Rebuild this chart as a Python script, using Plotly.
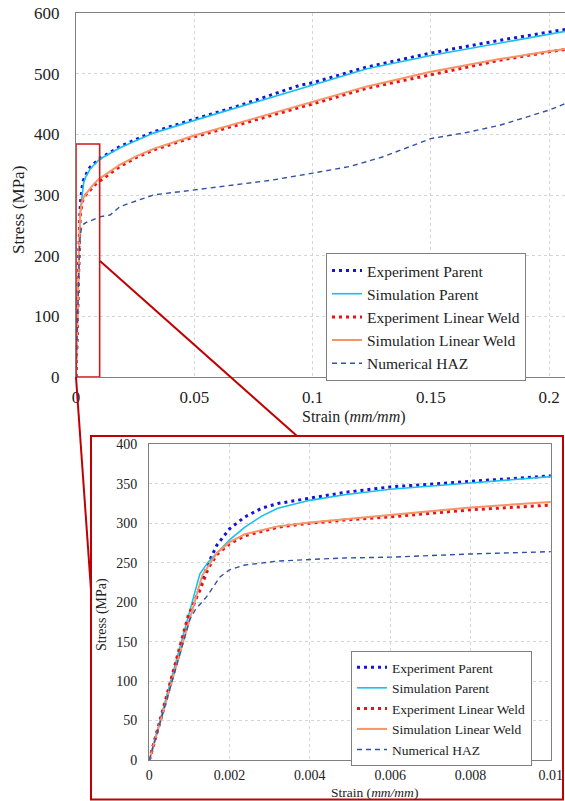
import plotly.graph_objects as go

# ---------------- data (strain mm/mm, stress MPa) ----------------
exp_parent_strain = [0, 0.0004, 0.0008, 0.00101, 0.00126, 0.00147, 0.00168, 0.002, 0.00238, 0.0028,
                     0.0032, 0.004, 0.00487, 0.006, 0.008, 0.01, 0.0186, 0.0327, 0.05, 0.068,
                     0.0947, 0.1, 0.123, 0.15, 0.179, 0.2, 0.207]
exp_parent_stress = [0, 73, 145, 183, 219, 249, 272, 293, 308, 319,
                     325, 332, 339, 346, 353, 360, 380, 404, 425, 446,
                     481, 485, 511, 534, 555, 569, 573]

sim_parent_strain = [0, 0.00126, 0.00147, 0.00168, 0.002, 0.00238, 0.0028, 0.0032, 0.004, 0.00487,
                     0.006, 0.008, 0.01, 0.0186, 0.0327, 0.05, 0.068, 0.1, 0.123, 0.15,
                     0.179, 0.2, 0.207]
sim_parent_stress = [0, 236, 251, 262, 279, 295, 309, 319, 329, 336,
                     343, 351, 359, 378, 402, 423, 444, 482, 508, 530,
                     551, 566, 570]

exp_weld_strain = [0, 0.0004, 0.0008, 0.00097, 0.00126, 0.00147, 0.00168, 0.002, 0.00238, 0.0028,
                   0.0032, 0.004, 0.00487, 0.006, 0.008, 0.01, 0.0186, 0.0256, 0.0327, 0.05,
                   0.068, 0.0961, 0.1, 0.123, 0.15, 0.179, 0.2, 0.207]
exp_weld_stress = [0, 76, 151, 183, 215, 243, 260, 274, 284, 290,
                   295, 300, 304, 308, 317, 323, 347, 362, 374, 396,
                   415, 446, 450, 476, 498, 522, 536, 540]

sim_weld_strain = [0, 0.00132, 0.00168, 0.002, 0.00238, 0.0032, 0.004, 0.00487, 0.006, 0.008,
                   0.01, 0.0186, 0.0256, 0.0327, 0.05, 0.068, 0.1, 0.123, 0.15, 0.179,
                   0.2, 0.207]
sim_weld_stress = [0, 234, 262, 276, 286, 296, 301, 305, 311, 320,
                   327, 350, 364, 376, 398, 418, 453, 479, 503, 524,
                   537, 541]

haz_strain = [0, 0.0006, 0.00101, 0.00114, 0.00143, 0.00176, 0.002, 0.00238, 0.0032, 0.004,
              0.00487, 0.006, 0.008, 0.01, 0.0144, 0.0186, 0.0327, 0.05, 0.068, 0.082,
              0.1, 0.1158, 0.1298, 0.15, 0.1651, 0.1792, 0.2, 0.207]
haz_stress = [0, 104, 178, 190, 207, 232, 241, 247, 252, 254,
              256, 257, 261, 264, 267, 281, 300, 308, 317, 324,
              336, 347, 363, 393, 403, 415, 440, 451]

series_names = ["Experiment Parent", "Simulation Parent", "Experiment Linear Weld",
                "Simulation Linear Weld", "Numerical HAZ"]

main_xticks = [0, 0.05, 0.1, 0.15, 0.2]
main_xticktext = ["0", "0.05", "0.1", "0.15", "0.2"]
main_yticks = [0, 100, 200, 300, 400, 500, 600]
zoom_xticks = [0, 0.002, 0.004, 0.006, 0.008, 0.01]
zoom_xticktext = ["0", "0.002", "0.004", "0.006", "0.008", "0.01"]
zoom_yticks = [0, 50, 100, 150, 200, 250, 300, 350, 400]
zoom_box = (0, 0.01, 0, 384)  # region of the main chart shown in the inset

# ---------------- styling ----------------
W, H = 565, 801
FONT = "Liberation Serif"
styles = [
    dict(color="#1414D2", width=3, dash="3px,4px"),
    dict(color="#18C0EE", width=1.6, dash="solid"),
    dict(color="#F01010", width=3, dash="3px,4px"),
    dict(color="#F79468", width=2, dash="solid"),
    dict(color="#2E52A4", width=1.4, dash="5px,4px"),
]
datasets = [(exp_parent_strain, exp_parent_stress), (sim_parent_strain, sim_parent_stress),
            (exp_weld_strain, exp_weld_stress), (sim_weld_strain, sim_weld_stress),
            (haz_strain, haz_stress)]

def px(x):
    return x / W

def py(y):
    return 1 - y / H

fig = go.Figure()
for (xs, ys), name, st in zip(datasets, series_names, styles):
    fig.add_trace(go.Scatter(x=xs, y=ys, mode="lines", name=name, line=st,
                             xaxis="x", yaxis="y", legend="legend"))
for (xs, ys), name, st in zip(datasets, series_names, styles):
    fig.add_trace(go.Scatter(x=xs, y=ys, mode="lines", name=name, line=st,
                             xaxis="x2", yaxis="y2", legend="legend2"))

grid = dict(showgrid=True, gridcolor="#D4D4D4", griddash="dot", gridwidth=1, zeroline=False,
            automargin=False)
axline = dict(showline=True, linecolor="#808080", linewidth=1.3, ticks="")

fig.update_layout(
    width=W, height=H, autosize=False,
    margin=dict(l=0, r=0, t=0, b=0, pad=0, autoexpand=False),
    paper_bgcolor="white", plot_bgcolor="white",
    font=dict(family=FONT, color="#222222"),
    xaxis=dict(domain=[px(76), 1.0], range=[0, 0.2067], tickvals=main_xticks, ticktext=main_xticktext,
               mirror=True, tickfont=dict(size=17, family=FONT), ticklabelstandoff=4,
               anchor="y", **grid, **axline),
    yaxis=dict(domain=[py(377), py(13)], range=[0, 600], tickvals=main_yticks,
               mirror=False, tickfont=dict(size=17, family=FONT), ticklabelstandoff=12,
               anchor="x", **grid, **axline),
    xaxis2=dict(domain=[px(149.3), px(550.7)], range=[0, 0.01], tickvals=zoom_xticks,
                ticktext=zoom_xticktext, mirror=True, tickfont=dict(size=14, family=FONT),
                ticklabelstandoff=2, anchor="y2", **grid, **axline),
    yaxis2=dict(domain=[py(760), py(444.3)], range=[0, 400], tickvals=zoom_yticks,
                mirror=True, tickfont=dict(size=14, family=FONT), ticklabelstandoff=8,
                anchor="x2", **grid, **axline),
    legend=dict(x=px(326), y=py(253), xanchor="left", yanchor="top", bgcolor="white",
                bordercolor="#808080", borderwidth=1, font=dict(size=15.5, family=FONT, color="#222"),
                tracegroupgap=0, itemwidth=30),
    legend2=dict(x=px(351), y=py(651), xanchor="left", yanchor="top", bgcolor="white",
                 bordercolor="#808080", borderwidth=1, font=dict(size=13.5, family=FONT, color="#222"),
                 tracegroupgap=0, itemwidth=30),
    showlegend=True,
)

red = "#C00000"
shapes = [
    # zoom region in main chart
    dict(type="rect", xref="x", yref="y", x0=zoom_box[0], x1=zoom_box[1], y0=zoom_box[2], y1=zoom_box[3],
         line=dict(color="#D01818", width=1.6), layer="above"),
    # inset frame
    dict(type="rect", xref="paper", yref="paper", x0=px(91), x1=px(563), y0=py(799.5), y1=py(436),
         line=dict(color=red, width=2)),
    # connector lines
    dict(type="line", xref="paper", yref="paper", x0=px(76), y0=py(377), x1=px(91), y1=py(590),
         line=dict(color=red, width=2)),
    dict(type="line", xref="paper", yref="paper", x0=px(100), y0=py(261), x1=px(297), y1=py(436),
         line=dict(color=red, width=2)),
]
fig.update_layout(shapes=shapes)

ann = dict(xref="paper", yref="paper", showarrow=False, xanchor="center", yanchor="middle")
annotations = [
    dict(text="Strain (<i>mm/mm</i>)", x=px(354), y=py(417),
         font=dict(size=16, family=FONT, color="#222"), **ann),
    dict(text="Stress (MPa)", x=px(19), y=py(210), textangle=-90,
         font=dict(size=17, family=FONT, color="#222"), **ann),
    dict(text="Strain (<i>mm/mm</i>)", x=px(374), y=py(792),
         font=dict(size=13.5, family=FONT, color="#222"), **ann),
    dict(text="Stress (MPa)", x=px(102), y=py(615), textangle=-90,
         font=dict(size=14, family=FONT, color="#222"), **ann),
]
fig.update_layout(annotations=annotations)

fig.write_html("out.html")
